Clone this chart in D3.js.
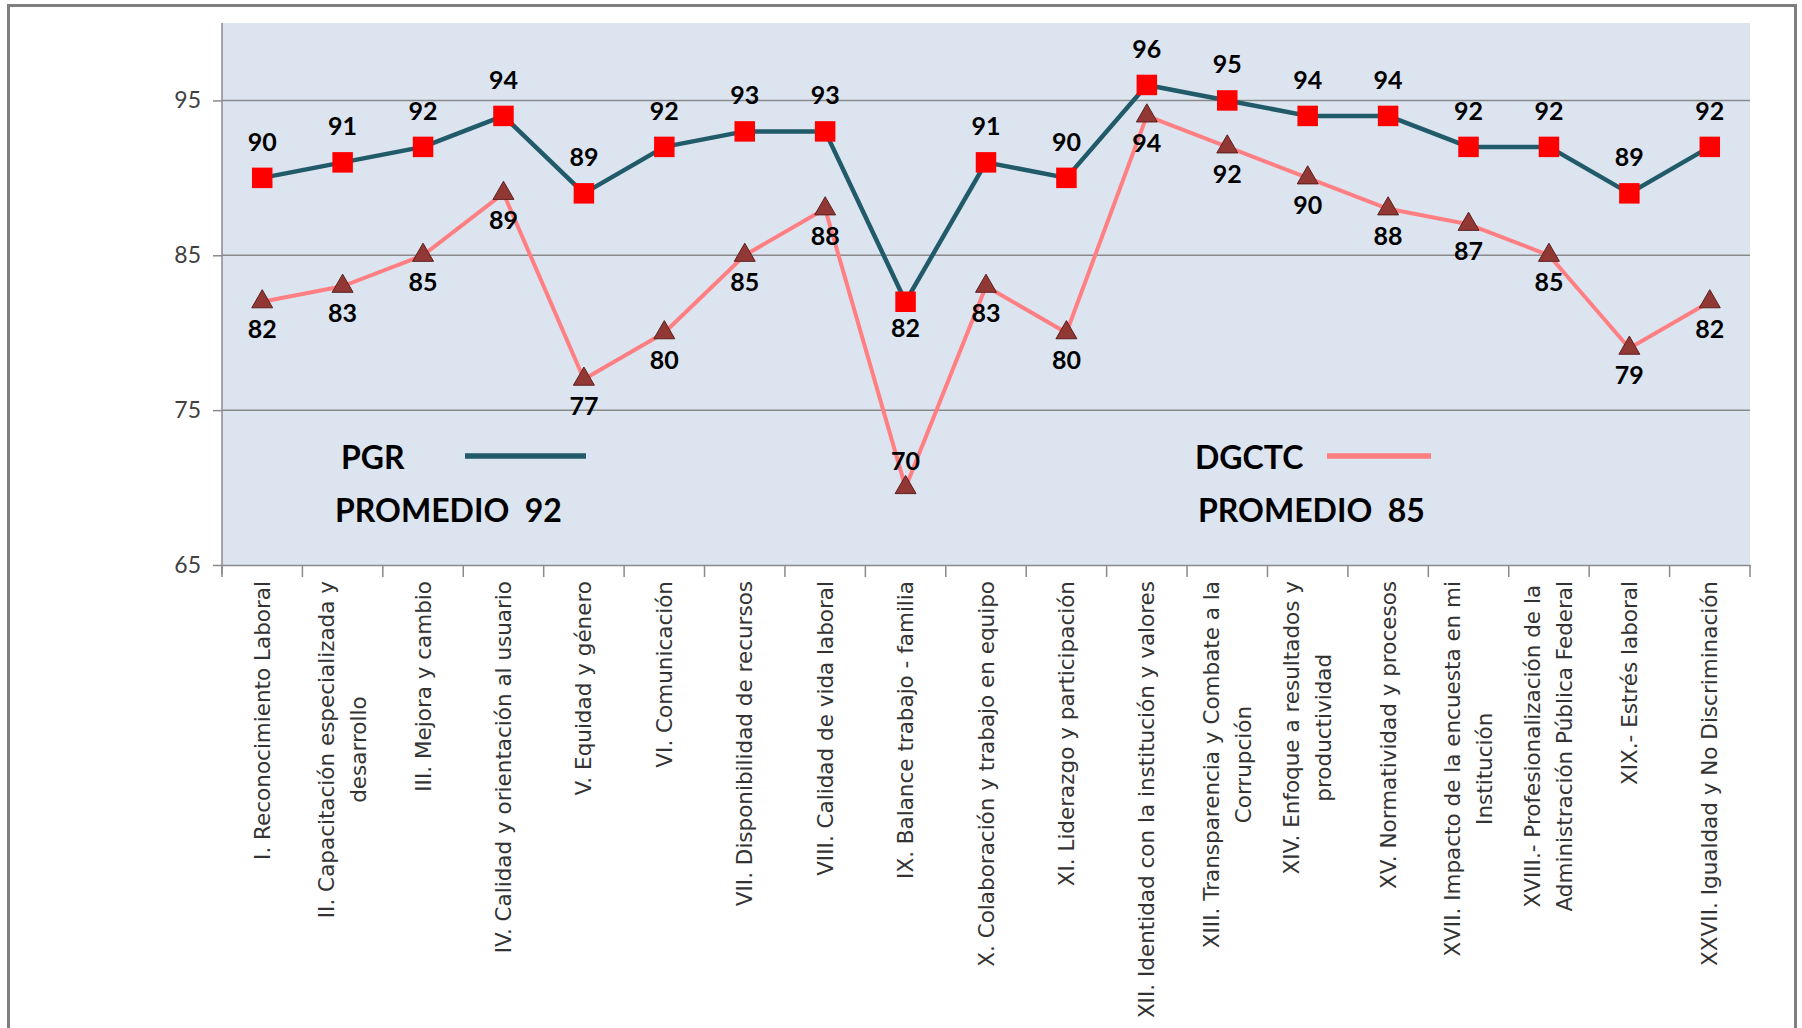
<!DOCTYPE html>
<html>
<head>
<meta charset="utf-8">
<script src="https://cdn.jsdelivr.net/npm/d3@7"></script>
<style>
  body { margin: 0; background: #ffffff; }
  svg { display: block; }
</style>
</head>
<body>
<svg id="chart" width="1802" height="1028"></svg>
<script>
// Clima laboral: puntaje por factor, PGR frente a DGCTC
const categories = [
  "I. Reconocimiento Laboral",
  "II. Capacitación especializada y\ndesarrollo",
  "III. Mejora y cambio",
  "IV. Calidad y orientación al usuario",
  "V. Equidad y género",
  "VI. Comunicación",
  "VII. Disponibilidad de recursos",
  "VIII. Calidad de vida laboral",
  "IX. Balance trabajo - familia",
  "X. Colaboración y trabajo en equipo",
  "XI. Liderazgo y participación",
  "XII. Identidad con la institución y valores",
  "XIII. Transparencia y Combate a la\nCorrupción",
  "XIV. Enfoque a resultados y\nproductividad",
  "XV. Normatividad y procesos",
  "XVII. Impacto de la encuesta en mi\nInstitución",
  "XVIII.- Profesionalización de la\nAdministración Pública Federal",
  "XIX.- Estrés laboral",
  "XXVII. Igualdad y No Discriminación"
];
const pgrValues   = [90, 91, 92, 94, 89, 92, 93, 93, 82, 91, 90, 96, 95, 94, 94, 92, 92, 89, 92];
const dgctcValues = [82, 83, 85, 89, 77, 80, 85, 88, 70, 83, 80, 94, 92, 90, 88, 87, 85, 79, 82];
const yTicks = [65, 75, 85, 95];
const seriesNames = ["PGR", "DGCTC"];
const seriesAverages = [92, 85];

const plot = { left: 222, right: 1750, top: 23, bottom: 565 };
const svg = d3.select("#chart");

// outer chart frame
svg.append("rect")
  .attr("x", 8.5).attr("y", 5.5)
  .attr("width", 1787).attr("height", 1040)
  .attr("fill", "#ffffff")
  .attr("stroke", "#7f7f7f").attr("stroke-width", 3);

const x = d3.scaleBand().domain(categories).range([plot.left, plot.right]);
const y = d3.scaleLinear().domain([65, 100]).range([plot.bottom, plot.top]);
const cx = c => x(c) + x.bandwidth() / 2;

// plot area background
svg.append("rect")
  .attr("x", plot.left).attr("y", plot.top)
  .attr("width", plot.right - plot.left).attr("height", plot.bottom - plot.top)
  .attr("fill", "#dce4f0");

// horizontal gridlines
svg.append("g").selectAll("line")
  .data(yTicks.filter(t => t > 65))
  .join("line")
  .attr("x1", plot.left).attr("x2", plot.right)
  .attr("y1", d => y(d)).attr("y2", d => y(d))
  .attr("stroke", "#8a8a8a").attr("stroke-width", 1.5);

// value axis
const yAxis = svg.append("g")
  .attr("transform", `translate(${plot.left},0)`)
  .call(d3.axisLeft(y).tickValues(yTicks).tickSize(9).tickPadding(12).tickFormat(d3.format("d")));
yAxis.select(".domain").attr("stroke", "#8a8a8a").attr("stroke-width", 1.5)
  .attr("d", `M0,${plot.top}V${plot.bottom + 9}`);
yAxis.selectAll(".tick line").attr("stroke", "#8a8a8a").attr("stroke-width", 1.5);
yAxis.selectAll(".tick text")
  .attr("fill", "#404040")
  .style("font-family", "Lato, 'Open Sans', sans-serif")
  .style("font-size", "23px");

// category axis: baseline and boundary ticks
const xAxis = svg.append("g")
  .attr("transform", `translate(0,${plot.bottom})`)
  .call(d3.axisBottom(x).tickSize(0).tickFormat(""));
xAxis.select(".domain").attr("stroke", "#8a8a8a").attr("stroke-width", 1.5);
xAxis.selectAll(".tick").remove();
const bounds = categories.map(c => x(c)).concat([x(categories[categories.length - 1]) + x.bandwidth()]);
xAxis.selectAll("line.bound")
  .data(bounds)
  .join("line")
  .attr("class", "bound")
  .attr("x1", d => d).attr("x2", d => d)
  .attr("y1", 0).attr("y2", 12)
  .attr("stroke", "#8a8a8a").attr("stroke-width", 1.5);

// rotated, wrapped category labels
const labelTop = 581;
const lineH = 32;
categories.forEach(c => {
  const lines = c.split("\n");
  const g = svg.append("g")
    .attr("transform", `translate(${cx(c)},${labelTop}) rotate(-90)`);
  const texts = lines.map((ln, i) => g.append("text")
    .attr("y", (i - (lines.length - 1) / 2) * lineH)
    .attr("dominant-baseline", "central")
    .attr("text-anchor", "middle")
    .attr("fill", "#333333")
    .style("font-family", "'DejaVu Sans', sans-serif")
    .style("font-size", "21.5px")
    .text(ln));
  const maxLen = d3.max(texts, t => t.node().getComputedTextLength());
  texts.forEach(t => t.attr("x", -maxLen / 2));
});

// series lines
const pgrData = categories.map((c, i) => ({ c, v: pgrValues[i] }));
const dgData = categories.map((c, i) => ({ c, v: dgctcValues[i] }));
const line = d3.line().x(d => cx(d.c)).y(d => y(d.v));

svg.append("path").datum(dgData)
  .attr("d", line).attr("fill", "none")
  .attr("stroke", "#ff7f82").attr("stroke-width", 4).attr("stroke-linejoin", "round");
svg.append("path").datum(pgrData)
  .attr("d", line).attr("fill", "none")
  .attr("stroke", "#215a68").attr("stroke-width", 4.5).attr("stroke-linejoin", "round");

// markers
svg.append("g").selectAll("path")
  .data(dgData).join("path")
  .attr("transform", d => `translate(${cx(d.c)},${y(d.v)})`)
  .attr("d", d3.symbol(d3.symbolTriangle, 190))
  .attr("fill", "#923834").attr("stroke", "#5c1f1d").attr("stroke-width", 1);
svg.append("g").selectAll("path")
  .data(pgrData).join("path")
  .attr("transform", d => `translate(${cx(d.c)},${y(d.v)})`)
  .attr("d", d3.symbol(d3.symbolSquare, 420))
  .attr("fill", "#ff0000");

// data labels: PGR above, DGCTC below; each series' lowest point swaps side
const labelFont = "Lato, 'Open Sans', sans-serif";
const pgrMin = d3.min(pgrValues), dgMin = d3.min(dgctcValues);
svg.append("g").selectAll("text")
  .data(pgrData).join("text")
  .attr("x", d => cx(d.c))
  .attr("y", d => d.v === pgrMin ? y(d.v) + 35 : y(d.v) - 27)
  .attr("text-anchor", "middle")
  .attr("fill", "#000")
  .style("font-family", labelFont).style("font-weight", "700").style("font-size", "25px")
  .text(d => d3.format("d")(d.v));
svg.append("g").selectAll("text")
  .data(dgData).join("text")
  .attr("x", d => cx(d.c))
  .attr("y", d => d.v === dgMin ? y(d.v) - 18 : y(d.v) + 36)
  .attr("text-anchor", "middle")
  .attr("fill", "#000")
  .style("font-family", labelFont).style("font-weight", "700").style("font-size", "25px")
  .text(d => d3.format("d")(d.v));

// legend blocks inside the plot area
const legend = [
  { name: seriesNames[0], avg: seriesAverages[0], color: "#215a68", tx: 341, px: 335, lx1: 465, lx2: 586 },
  { name: seriesNames[1], avg: seriesAverages[1], color: "#ff7f82", tx: 1195, px: 1198, lx1: 1327, lx2: 1431 }
];
legend.forEach(l => {
  svg.append("text")
    .attr("x", l.tx).attr("y", 469)
    .attr("fill", "#000")
    .style("font-family", labelFont).style("font-weight", "700").style("font-size", "32px")
    .text(l.name);
  svg.append("line")
    .attr("x1", l.lx1).attr("x2", l.lx2).attr("y1", 456).attr("y2", 456)
    .attr("stroke", l.color).attr("stroke-width", 5.5);
  svg.append("text")
    .attr("x", l.px).attr("y", 522)
    .attr("fill", "#000")
    .attr("xml:space", "preserve")
    .style("white-space", "pre")
    .style("font-family", labelFont).style("font-weight", "700").style("font-size", "32px")
    .text(`PROMEDIO  ${l.avg}`);
});
</script>
</body>
</html>
